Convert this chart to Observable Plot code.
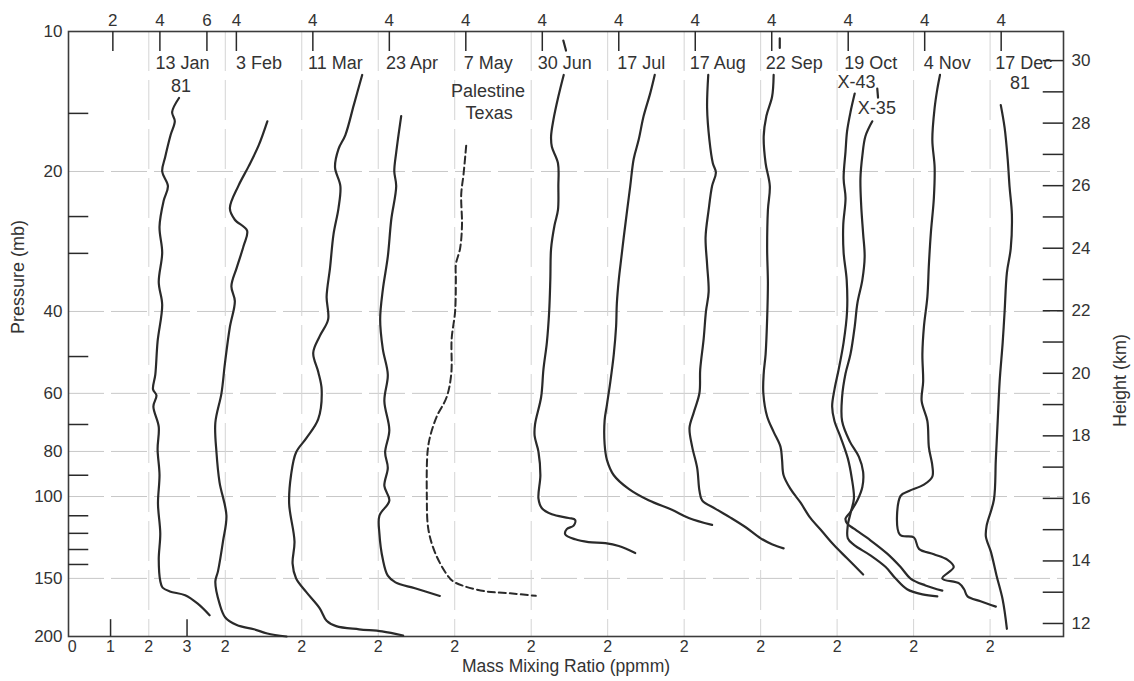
<!DOCTYPE html>
<html>
<head>
<meta charset="utf-8">
<script src="https://cdn.jsdelivr.net/npm/d3@7"></script>
<script src="https://cdn.jsdelivr.net/npm/@observablehq/plot@0.6"></script>
<style>
  html, body { margin: 0; padding: 0; background: #fff; }
  #chart { width: 1134px; height: 681px; }
</style>
</head>
<body>
<div id="chart"></div>
<script>
// ---------- DATA: [pressure (mb), mass mixing ratio (ppmm)] ----------
const dateNames = ["13 Jan", "3 Feb", "11 Mar", "23 Apr", "7 May", "30 Jun", "17 Jul", "17 Aug", "22 Sep", "19 Oct", "4 Nov", "17 Dec"];

const jan13 = [[13.9,2.79],[14.9,2.61],[15.6,2.68],[16.7,2.57],[18.6,2.43],[20.0,2.35],[21.5,2.50],[23.1,2.39],[26.3,2.28],[29.9,2.35],[34.6,2.26],[38.7,2.35],[46.4,2.23],[54.7,2.17],[58.8,2.11],[60.6,2.20],[64,2.12],[70.8,2.26],[79.1,2.23],[89.9,2.28],[103.6,2.24],[120.2,2.30],[136.5,2.26],[152,2.30],[157,2.36],[160,2.55],[163,2.95],[170,3.28],[180,3.59]];
const feb3 = [[15.6,3.10],[17.6,2.87],[19.5,2.61],[21.5,2.34],[24.0,2.12],[25.4,2.25],[26.8,2.57],[28.9,2.48],[32.2,2.30],[35.3,2.16],[38.0,2.25],[43.2,2.12],[51.8,1.99],[60.0,1.90],[69.4,1.74],[80.4,1.77],[93.2,1.85],[109.9,2.03],[124.9,1.94],[144.7,1.81],[152.3,1.74],[170,1.85],[182,2.0],[189,2.3],[193,2.75],[197,3.1],[200,3.6]];
const mar11 = [[12.4,3.58],[14.4,3.36],[16.7,3.14],[17.9,2.96],[19.6,2.87],[21.5,3.01],[24.0,2.96],[27.3,2.83],[32.2,2.74],[37.2,2.65],[41.6,2.69],[45.2,2.47],[49.1,2.30],[53.9,2.43],[58.8,2.52],[68.2,2.43],[74.9,2.12],[80.4,1.85],[89.9,1.72],[103.6,1.67],[124.9,1.81],[139.4,1.76],[149.9,1.85],[160.6,2.12],[174,2.47],[185,2.65],[190,2.9],[193,3.5],[195,4.1],[199,4.65]];
const apr23 = [[15.2,2.60],[18.2,2.47],[20.0,2.42],[21.5,2.47],[25.4,2.34],[30.5,2.25],[35.9,2.12],[41.6,2.05],[48.2,2.12],[54.7,2.25],[62.3,2.16],[72.0,2.29],[80.4,2.18],[86.7,2.25],[94.9,2.16],[102.0,2.29],[110,2.03],[120,2.03],[136.5,2.12],[148,2.25],[153,2.45],[157.5,2.96],[163.6,3.61]];
const may7 = [[17.6,2.30],[20.3,2.23],[22.4,2.17],[26.1,2.19],[29.3,2.14],[31.7,2.03],[34.2,2.03],[40.0,2.01],[45.8,1.92],[54.4,1.91],[61.1,1.79],[67.3,1.53],[74.1,1.36],[80.1,1.29],[99.3,1.27],[117.5,1.31],[132.3,1.49],[147,1.79],[152,1.95],[156,2.26],[160,2.82],[161.5,3.45],[163.5,4.12]];
const jun30Top = [[10.46,2.84],[10.99,2.91]];
const jun30 = [[12.4,2.85],[13.8,2.71],[15.5,2.58],[16.8,2.52],[17.7,2.54],[19.2,2.70],[21.5,2.71],[24.2,2.70],[26.1,2.61],[29.3,2.52],[34.2,2.50],[40.0,2.47],[46.6,2.41],[53.3,2.32],[61.1,2.26],[70.0,2.10],[74.1,2.09],[80.1,2.19],[90.0,2.24],[101.1,2.19],[106.0,2.28],[109.2,2.54],[111.2,2.98],[112.3,3.15],[115.5,3.11],[117.5,2.93],[120.6,2.89],[123.6,3.15],[125.3,3.50],[126.0,3.94],[127.8,4.29],[132.3,4.72]];
const jul17 = [[12.4,3.23],[13.6,3.11],[15.2,2.94],[17.1,2.81],[18.8,2.68],[21.5,2.59],[24.2,2.51],[27.7,2.42],[30.5,2.36],[34.2,2.29],[38.4,2.24],[43.1,2.22],[49.4,2.16],[56.6,2.07],[63.5,1.98],[68.6,1.92],[77.2,1.92],[83.4,1.98],[90.0,2.16],[96.3,2.55],[101.9,3.07],[106.8,3.68],[111.2,4.12],[115.1,4.73]];
const aug17 = [[12.4,2.63],[14.6,2.60],[17.1,2.66],[19.2,2.75],[20.1,2.83],[21.5,2.73],[24.2,2.64],[27.7,2.56],[31.7,2.60],[36.3,2.64],[40.0,2.57],[45.8,2.51],[53.3,2.42],[59.9,2.40],[66.0,2.25],[71.2,2.14],[78.2,2.21],[86.8,2.34],[97.2,2.40],[101.9,2.47],[106.3,2.82],[111.0,3.21],[116.3,3.60],[123.0,4.0],[126.8,4.31],[129.3,4.60]];
const sep22Top = [[10.35,2.50],[10.85,2.50]];
const sep22 = [[12.4,2.34],[13.8,2.30],[15.2,2.15],[16.8,2.08],[19.2,2.13],[21.5,2.24],[24.2,2.19],[29.3,2.17],[34.8,2.19],[41.5,2.17],[49.4,2.13],[54.4,2.08],[59.9,2.07],[67.3,2.17],[72.6,2.34],[78.2,2.52],[83.4,2.56],[90.0,2.60],[96.3,2.78],[103.0,3.04],[111.2,3.30],[118.9,3.61],[127.0,3.91],[135.8,4.26],[147.1,4.68]];
const oct19X43 = [[13.6,2.46],[14.9,2.35],[16.4,2.26],[18.1,2.22],[20.7,2.17],[22.8,2.22],[26.1,2.16],[29.9,2.17],[34.2,2.25],[40.0,2.26],[46.6,2.17],[53.3,2.04],[58.9,1.93],[64.0,1.87],[68.8,1.93],[74.5,2.09],[82.8,2.28],[91.0,2.38],[100.9,2.44],[107.9,2.36],[115.2,2.28],[123.0,2.28],[127.1,2.44],[133.8,2.87],[141.8,3.27],[150.1,3.53],[158.3,3.83],[162.4,4.23],[163.9,4.62]];
const oct19X35Top = [[13.27,3.05],[13.87,3.07]];
const oct19X35 = [[15.6,2.92],[16.8,2.74],[18.5,2.66],[20.7,2.61],[23.7,2.63],[27.2,2.68],[30.5,2.72],[34.2,2.66],[38.4,2.53],[43.1,2.46],[49.4,2.35],[54.4,2.22],[61.1,2.13],[68.8,2.13],[76.1,2.33],[82.2,2.57],[88.5,2.68],[95.4,2.66],[101.9,2.53],[107.9,2.35],[111.5,2.22],[114.2,2.26],[117.3,2.44],[124.2,2.87],[132.7,3.31],[141.8,3.66],[150.1,3.92],[155.3,4.31],[159.4,4.75]];
const nov4 = [[12.4,2.69],[13.3,2.62],[14.6,2.55],[17.1,2.49],[19.6,2.55],[22.8,2.53],[27.2,2.45],[31.7,2.40],[37.2,2.36],[43.1,2.27],[49.4,2.23],[56.6,2.25],[62.3,2.21],[68.8,2.36],[78.4,2.40],[85.9,2.49],[90.6,2.49],[94.3,2.27],[97.3,1.88],[99.7,1.66],[120.8,1.64],[122.5,2.01],[129.6,2.14],[133.1,2.53],[136.7,2.88],[141.8,3.05],[150.0,2.75],[153.7,3.19],[158.3,3.32],[164.0,3.41],[168.0,3.75],[172.5,4.15]];
const dec17 = [[14.4,2.28],[16.1,2.38],[18.8,2.46],[21.6,2.51],[24.7,2.57],[29.3,2.54],[33.0,2.44],[40.0,2.38],[46.6,2.33],[56.6,2.25],[68.6,2.20],[83.4,2.15],[101.6,2.10],[115.5,1.91],[122,1.89],[131.4,2.02],[148,2.17],[166.7,2.33],[192.5,2.44]];

// axis tick values
const pressureLabels = [10, 20, 40, 60, 80, 100, 150, 200];
const pressureGrid = [20, 40, 60, 80, 100, 150];
const pressureMinor = [15, 25, 30, 50, 70, 90, 110, 120, 130, 140];
const heightTicks = [12,13,14,15,16,17,18,19,20,21,22,23,24,25,26,27,28,29,30];
const heightLabels = [12, 14, 16, 18, 20, 22, 24, 26, 28, 30];
const bottomFirst = [0, 1, 2, 3];        // ppmm, first profile
const bottomFirstTicks = [1, 3];
const topFirstPos = [1.06, 2.29, 3.52];   // ppmm position of ppmv ticks
const topFirstLab = ["2", "4", "6"];
const profileStep = 2;                    // ppmm offset between profiles

// ---------- BUILD ----------
const series = [
  {s: "13 Jan", k: 0, pts: jan13},
  {s: "3 Feb", k: 1, pts: feb3},
  {s: "11 Mar", k: 2, pts: mar11},
  {s: "23 Apr", k: 3, pts: apr23},
  {s: "7 May", k: 4, pts: may7, dashed: true},
  {s: "30 Jun a", k: 5, pts: jun30Top},
  {s: "30 Jun", k: 5, pts: jun30},
  {s: "17 Jul", k: 6, pts: jul17},
  {s: "17 Aug", k: 7, pts: aug17},
  {s: "22 Sep a", k: 8, pts: sep22Top},
  {s: "22 Sep", k: 8, pts: sep22},
  {s: "19 Oct X-43", k: 9, pts: oct19X43},
  {s: "19 Oct X-35 a", k: 9, pts: oct19X35Top},
  {s: "19 Oct X-35", k: 9, pts: oct19X35},
  {s: "4 Nov", k: 10, pts: nov4},
  {s: "17 Dec", k: 11, pts: dec17}
];
const rows = series.flatMap(d => d.pts.map(([p, v]) => ({s: d.s, p, x: v + profileStep * d.k, dashed: !!d.dashed})));

const nProf = dateNames.length;
const idx = d3.range(nProf);
const bottomTicks = [
  ...bottomFirst.map(v => ({x: v, t: String(v)})),
  ...idx.slice(1).map(k => ({x: 2 + profileStep * k, t: "2"}))
];
const topTicks = [
  ...topFirstPos.map((v, i) => ({x: v, t: topFirstLab[i]})),
  ...idx.slice(1).map(k => ({x: topFirstPos[1] + profileStep * k, t: "4"}))
];
const gridX = idx.map(k => 2 + profileStep * k);

// height (km) -> pressure (mb) for the right-hand axis
const h2p = h => 10 * Math.pow(10, (30.93 - h) / 14.87);

const XMIN = -0.1, XMAX = 25.92;
const ink = "#2a2a2a", txt = "#333";

const labelY = 11.72;
const dateLabels = idx.map(k => ({x: 2.88 + profileStep * k, p: labelY, t: dateNames[k]}));
const extraLabels = [
  {x: 2.84, p: 13.14, t: "81"},
  {x: 10.87, p: 13.47, t: "Palestine"},
  {x: 10.9, p: 15.02, t: "Texas"},
  {x: 20.51, p: 12.88, t: "X-43"},
  {x: 21.04, p: 14.65, t: "X-35"},
  {x: 24.78, p: 12.9, t: "81"}
];

const chart = Plot.plot({
  width: 1134,
  height: 681,
  marginLeft: 68,
  marginRight: 71,
  marginTop: 31,
  marginBottom: 45,
  x: {domain: [XMIN, XMAX], axis: null},
  y: {type: "log", domain: [10, 200], range: [31, 636], axis: null},
  style: {fontFamily: "'Liberation Sans', Arial, Helvetica, sans-serif", fontSize: "17px", color: txt, background: "#fff"},
  marks: [
    // faint grid
    Plot.ruleY(pressureGrid, {stroke: "#c8c8c8", strokeWidth: 1, strokeDasharray: "36,7"}),
    Plot.ruleX(gridX, {stroke: "#d4d4d4", strokeWidth: 1, strokeDasharray: "40,9"}),
    // frame
    Plot.frame({stroke: "#3c3c3c", strokeWidth: 1.6}),
    // left axis
    Plot.axisY(pressureLabels, {anchor: "left", tickSize: 0, tickPadding: 6, tickFormat: d => String(d), label: null, fontSize: 17, fill: txt}),
    Plot.ruleY(pressureMinor, {x1: XMIN, x2: XMIN + 0.53, stroke: ink, strokeWidth: 1.5}),
    // right axis (height)
    Plot.ruleY(heightTicks.map(h2p), {x1: XMAX - 0.53, x2: XMAX, stroke: ink, strokeWidth: 1.5}),
    Plot.text(heightLabels, {x: XMAX, y: h => h2p(h), text: d => String(d), dx: 8, textAnchor: "start", fontSize: 17, fill: txt}),
    // top axis
    Plot.ruleX(topTicks, {x: "x", y1: 10, y2: 11.04, stroke: ink, strokeWidth: 1.5}),
    Plot.text(topTicks, {x: "x", y: 10, text: "t", dy: -11, fontSize: 17, fill: txt}),
    // bottom axis
    Plot.ruleX(bottomFirstTicks, {y1: 184, y2: 200, stroke: ink, strokeWidth: 1.5}),
    Plot.text(bottomTicks, {x: "x", y: 200, text: "t", dy: 10, fontSize: 16, fill: txt}),
    // profiles
    Plot.line(rows.filter(d => !d.dashed), {x: "x", y: "p", z: "s", stroke: ink, strokeWidth: 2.2, curve: "catmull-rom"}),
    Plot.line(rows.filter(d => d.dashed), {x: "x", y: "p", z: "s", stroke: ink, strokeWidth: 2, strokeDasharray: "7,4", curve: "catmull-rom"}),
    // labels
    Plot.text(dateLabels, {x: "x", y: "p", text: "t", fontSize: 18, fill: txt}),
    Plot.text(extraLabels, {x: "x", y: "p", text: "t", fontSize: 18, fill: txt}),
    // axis titles
    Plot.text(["Pressure (mb)"], {frameAnchor: "left", dx: -50, rotate: -90, fontSize: 18, fill: txt}),
    Plot.text(["Height (km)"], {frameAnchor: "right", dx: 57, rotate: -90, fontSize: 18, fill: txt}),
    Plot.text(["Mass Mixing Ratio (ppmm)"], {frameAnchor: "bottom", dy: 35, fontSize: 17.5, fill: txt})
  ]
});
document.getElementById("chart").appendChild(chart);
</script>
</body>
</html>
